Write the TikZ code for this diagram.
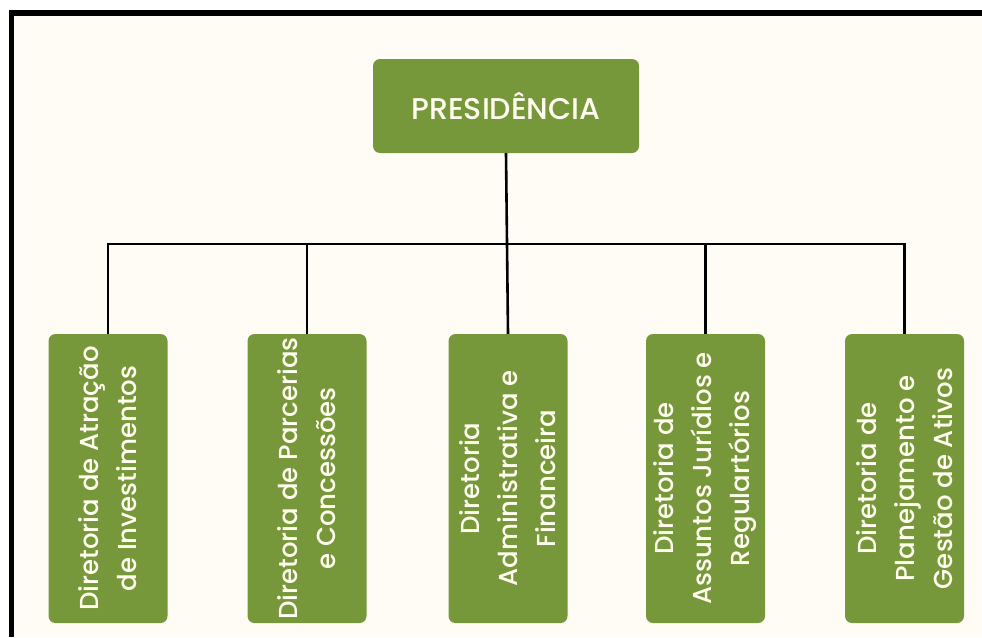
\documentclass[tikz,border=0pt]{standalone}
\usepackage{fontspec}
\setmainfont{Poppins}[UprightFont={* Medium}]
\definecolor{frameblack}{RGB}{0,0,0}
\definecolor{cream}{RGB}{255,251,245}
\definecolor{leaf}{RGB}{118,152,58}
\definecolor{boxtext}{RGB}{255,253,238}
\begin{document}
\begin{tikzpicture}[x=1pt,y=-1pt,
  greenbox/.style={draw=none,fill=leaf,rounded corners=7pt,text=boxtext,align=center,inner sep=0pt},
  dirbox/.style={greenbox,rotate=90,minimum width=289pt,minimum height=119pt,font=\fontsize{26}{38}\selectfont},
  link/.style={draw=black,line width=2.6pt}]
\useasboundingbox (0,0) rectangle (982,637);
\fill[white] (0,0) rectangle (982,637);
\fill[frameblack] (9,10) rectangle (982,637);
\fill[cream] (14,16) rectangle (982,637);
\node[greenbox,minimum width=266pt,minimum height=94pt,font=\fontsize{30}{34}\selectfont] (pres) at (506,106) {PRESIDÊNCIA};
\node[dirbox] (b1) at (108,478.5) {Diretoria de Atração\\de Investimentos};
\node[dirbox] (b2) at (307,478.5) {Diretoria de Parcerias\\e Concessões};
\node[dirbox] (b3) at (508,478.5) {Diretoria\\Administrativa e\\Financeira};
\node[dirbox] (b4) at (705.5,478.5) {Diretoria de\\Assuntos Jurídios e\\Regulartórios};
\node[dirbox] (b5) at (904.5,478.5) {Diretoria de\\Planejamento e\\Gestão de Ativos};
\coordinate (bus) at (507,244);
\draw[link] (b1.east) -- (b1.east |- bus) -- (b5.east |- bus) -- (b5.east);
\draw[link] (b2.east) -- (b2.east |- bus);
\draw[link] (b4.east) -- (b4.east |- bus);
\draw[link] (pres.south) -- (b3.east);
\end{tikzpicture}
\end{document}
